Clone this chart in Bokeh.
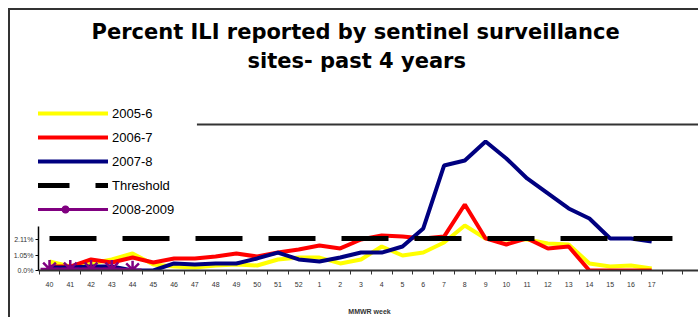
from bokeh.plotting import figure
from bokeh.models import Range1d, FixedTicker, Title, Legend, LegendItem, BoxAnnotation
from bokeh.embed import file_html
from bokeh.resources import INLINE

# ---- data ----
weeks = ["40", "41", "42", "43", "44", "45", "46", "47", "48", "49", "50", "51", "52",
         "1", "2", "3", "4", "5", "6", "7", "8", "9", "10", "11", "12", "13", "14",
         "15", "16", "17"]
week_idx = list(range(len(weeks)))

ili_2005_6 = [0.61, 0.27, 0.48, 0.75, 1.16, 0.41, 0.27, 0.20, 0.34, 0.41, 0.34, 0.75, 0.88,
              0.88, 0.48, 0.75, 1.63, 1.02, 1.22, 1.90, 3.06, 2.18, 2.11, 2.11, 1.84, 1.77,
              0.48, 0.27, 0.34, 0.14]
ili_2006_7 = [0.27, 0.27, 0.75, 0.54, 0.88, 0.54, 0.82, 0.82, 0.95, 1.16, 0.95, 1.22, 1.43,
              1.70, 1.50, 2.11, 2.38, 2.31, 2.18, 2.31, 4.49, 2.18, 1.77, 2.18, 1.50, 1.63,
              0.0, 0.0, 0.0, 0.0]
ili_2007_8 = [0.20, 0.20, 0.27, 0.27, 0.0, 0.0, 0.48, 0.41, 0.48, 0.48, 0.82, 1.22, 0.75,
              0.61, 0.88, 1.22, 1.22, 1.63, 2.86, 7.14, 7.48, 8.78, 7.62, 6.26, 5.24, 4.22,
              3.54, 2.18, 2.18, 1.97]
ili_2008_9 = [0.10, 0.10, 0.10, 0.10, 0.05]
threshold_idx = list(range(31))
threshold = [2.18] * 31

y_ticks = [0.0, 1.05, 2.11]
y_tick_labels = ["0.0%", "1.05%", "2.11%"]
plot_area_top = 9.93   # value at the top edge of the original plot area

title_line1 = "Percent ILI reported by sentinel surveillance"
title_line2 = "sites- past 4 years"

FONT = "Liberation Sans"
X_END = 31.35

p = figure(width=690, height=309, output_backend="svg", toolbar_location=None,
           x_range=Range1d(-0.53, X_END), y_range=Range1d(0, 11.70),
           min_border_left=27, min_border_right=0, min_border_top=88,
           min_border_bottom=49, title=None)
p.margin = (8, 0, 0, 8)
p.styles = {"border-left": "2px solid #333333", "border-top": "2px solid #333333"}
p.outline_line_color = None
p.xgrid.visible = False
p.ygrid.visible = False

# top edge of the plot area (left part hidden behind the legend in the original)
p.add_layout(BoxAnnotation(left=7.1, right=X_END, bottom=plot_area_top - 0.07,
                           top=plot_area_top + 0.07, fill_color="#333333", fill_alpha=1,
                           line_color=None))

r_y = p.line(week_idx, ili_2005_6, line_color="#FFFF00", line_width=4)
r_r = p.line(week_idx, ili_2006_7, line_color="#FF0000", line_width=4)
r_b = p.line(week_idx, ili_2007_8, line_color="#000080", line_width=4)
r_t = p.line(threshold_idx, threshold, line_color="#000000", line_width=5, line_dash="47 26")
r_p = p.line(week_idx[:len(ili_2008_9)], ili_2008_9, line_color="#800080", line_width=3)
r_ps = p.scatter(week_idx[:len(ili_2008_9)], ili_2008_9, marker="asterisk", size=18,
                 line_color="#800080", line_width=2.5)

# x axis
xa = p.xaxis[0]
xa.ticker = FixedTicker(ticks=week_idx, minor_ticks=[k - 0.5 for k in range(34)])
xa.major_label_overrides = {i: w for i, w in enumerate(weeks)}
xa.major_tick_line_color = None
xa.major_tick_out = 0
xa.major_tick_in = 0
xa.minor_tick_line_color = "#333333"
xa.minor_tick_out = 4
xa.minor_tick_in = 0
xa.axis_line_color = "#333333"
xa.axis_line_width = 2
xa.major_label_text_font = FONT
xa.major_label_text_font_size = "7px"
xa.major_label_text_color = "#333333"
xa.major_label_standoff = 7
xa.axis_label = "MMWR week"
xa.axis_label_text_font = FONT
xa.axis_label_text_font_size = "7px"
xa.axis_label_text_font_style = "bold"
xa.axis_label_text_color = "#333333"
xa.axis_label_standoff = 18

# y axis
ya = p.yaxis[0]
ya.bounds = (0, 3.0)
ya.ticker = FixedTicker(ticks=y_ticks)
ya.major_label_overrides = {t: l for t, l in zip(y_ticks, y_tick_labels)}
ya.minor_tick_line_color = None
ya.major_tick_out = 3
ya.major_tick_in = 0
ya.axis_line_color = "#000000"
ya.axis_line_width = 1.5
ya.major_label_text_font = FONT
ya.major_label_text_font_size = "7px"
ya.major_label_text_color = "#333333"
ya.major_label_standoff = 2

# spacer between plot and the two title lines
p.add_layout(Title(text=" ", text_font_size="10px", standoff=13), "above")
t2 = Title(text=title_line2, align="left", offset=209, text_font="DejaVu Sans",
           text_font_size="21px", text_font_style="bold", text_color="#000000", standoff=0)
p.add_layout(t2, "above")
t1 = Title(text=title_line1, align="left", offset=53, text_font="DejaVu Sans",
           text_font_size="21px", text_font_style="bold", text_color="#000000", standoff=5)
p.add_layout(t1, "above")

legend = Legend(items=[
    LegendItem(label="2005-6", renderers=[r_y]),
    LegendItem(label="2006-7", renderers=[r_r]),
    LegendItem(label="2007-8", renderers=[r_b]),
    LegendItem(label="Threshold", renderers=[r_t]),
    LegendItem(label="2008-2009", renderers=[r_p, r_ps]),
], location=(-16, 51), orientation="vertical")
legend.background_fill_alpha = 0
legend.border_line_color = None
legend.padding = 0
legend.margin = 0
legend.spacing = 4
legend.label_height = 20
legend.glyph_height = 20
legend.glyph_width = 86
legend.label_standoff = 4
legend.label_text_font = FONT
legend.label_text_font_size = "13px"
legend.label_text_color = "#000000"
p.add_layout(legend)

open("out.html", "w").write(file_html(p, INLINE))
